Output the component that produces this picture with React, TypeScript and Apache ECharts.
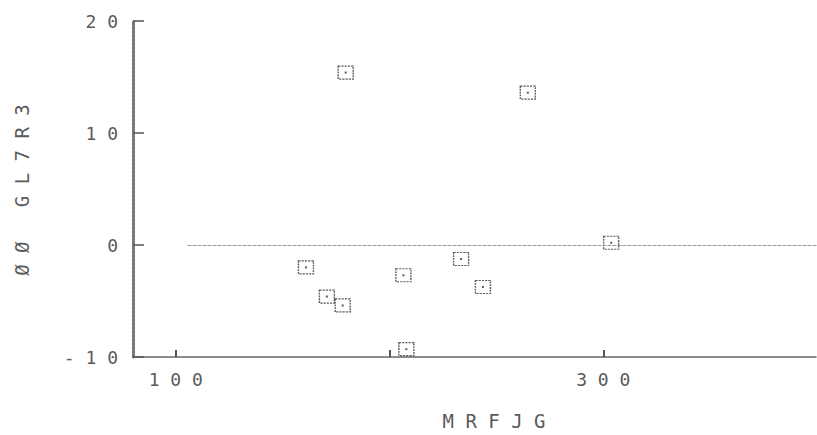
import React, { useEffect, useRef } from "react";
import * as echarts from "echarts";

const xValues = [179.5, 264.7, 303.7, 160.9, 170.7, 178.1, 206.5, 233.5, 243.7, 207.9];
const yValues = [15.4, 13.6, 0.2, -2.0, -4.6, -5.4, -2.7, -1.25, -3.75, -9.3];
const xTickValues = [100, 200, 300];
const xLabelValues = [100, 300];
const xAxisTitle = "MRFJG";
const yAxisTitle = "ØØ GL7R3";
const zeroLineStart = 105.5;

const spaced = (s: string) => s.split("").join(" ");

export default function App() {
  const ref = useRef<HTMLDivElement>(null);
  useEffect(() => {
    if (!ref.current) return;
    const chart = echarts.init(ref.current, null, { renderer: "svg" });
    const pts = xValues.map((x, i) => [x, yValues[i]]);
    const font = "DejaVu Sans Mono";
    const txtColor = "#5a5a5a";
    chart.setOption({
      animation: false,
      backgroundColor: "#ffffff",
      grid: { left: 133, top: 21, width: 688, height: 336, containLabel: false },
      xAxis: {
        type: "value",
        min: 80,
        max: 400,
        splitLine: { show: false },
        axisLine: { onZero: false, lineStyle: { color: "#666", width: 1.5, type: [3, 1] } },
        axisTick: { show: true, inside: true, length: 7, customValues: xTickValues, lineStyle: { color: "#555", width: 2 } },
        axisLabel: {
          customValues: xLabelValues,
          formatter: (v: number) => spaced(String(v)),
          fontFamily: font,
          fontSize: 18,
          color: txtColor,
          margin: 13,
        },
      },
      yAxis: {
        type: "value",
        min: -10,
        max: 20,
        interval: 10,
        splitLine: { show: false },
        axisLine: { onZero: false, lineStyle: { color: "#777", width: 3, type: [3, 1] } },
        axisTick: { show: true, inside: true, length: 11, lineStyle: { color: "#555", width: 1.5 } },
        axisLabel: {
          formatter: (v: number) => spaced(String(v)),
          fontFamily: font,
          fontSize: 18,
          color: txtColor,
          margin: 15,
        },
      },
      graphic: [
        {
          type: "text",
          x: 494,
          y: 421,
          style: {
            text: spaced(xAxisTitle),
            font: `19px '${font}'`,
            fill: txtColor,
            align: "center",
            verticalAlign: "middle",
          },
        },
        {
          type: "text",
          x: 22,
          y: 190,
          rotation: Math.PI / 2,
          style: {
            text: spaced(yAxisTitle),
            font: `19px '${font}'`,
            fill: txtColor,
            align: "center",
            verticalAlign: "middle",
          },
        },
      ],
      series: [
        {
          type: "scatter",
          data: pts,
          symbol: "rect",
          symbolSize: [15, 13],
          itemStyle: { color: "rgba(0,0,0,0)", borderColor: "#333", borderWidth: 1.3, borderType: [2, 1] },
          markLine: {
            silent: true,
            symbol: "none",
            label: { show: false },
            lineStyle: { color: "#999", width: 1, type: [4, 1] },
            data: [[{ coord: [zeroLineStart, 0] }, { coord: [400, 0] }]],
          },
          z: 3,
        },
        {
          type: "scatter",
          data: pts,
          symbol: "rect",
          symbolSize: 2,
          itemStyle: { color: "#333" },
          z: 4,
        },
      ],
    });
    return () => chart.dispose();
  }, []);
  return (
    <div
      ref={ref}
      style={{ position: "fixed", left: 0, top: 0, width: 817, height: 435, background: "#fff" }}
    />
  );
}
